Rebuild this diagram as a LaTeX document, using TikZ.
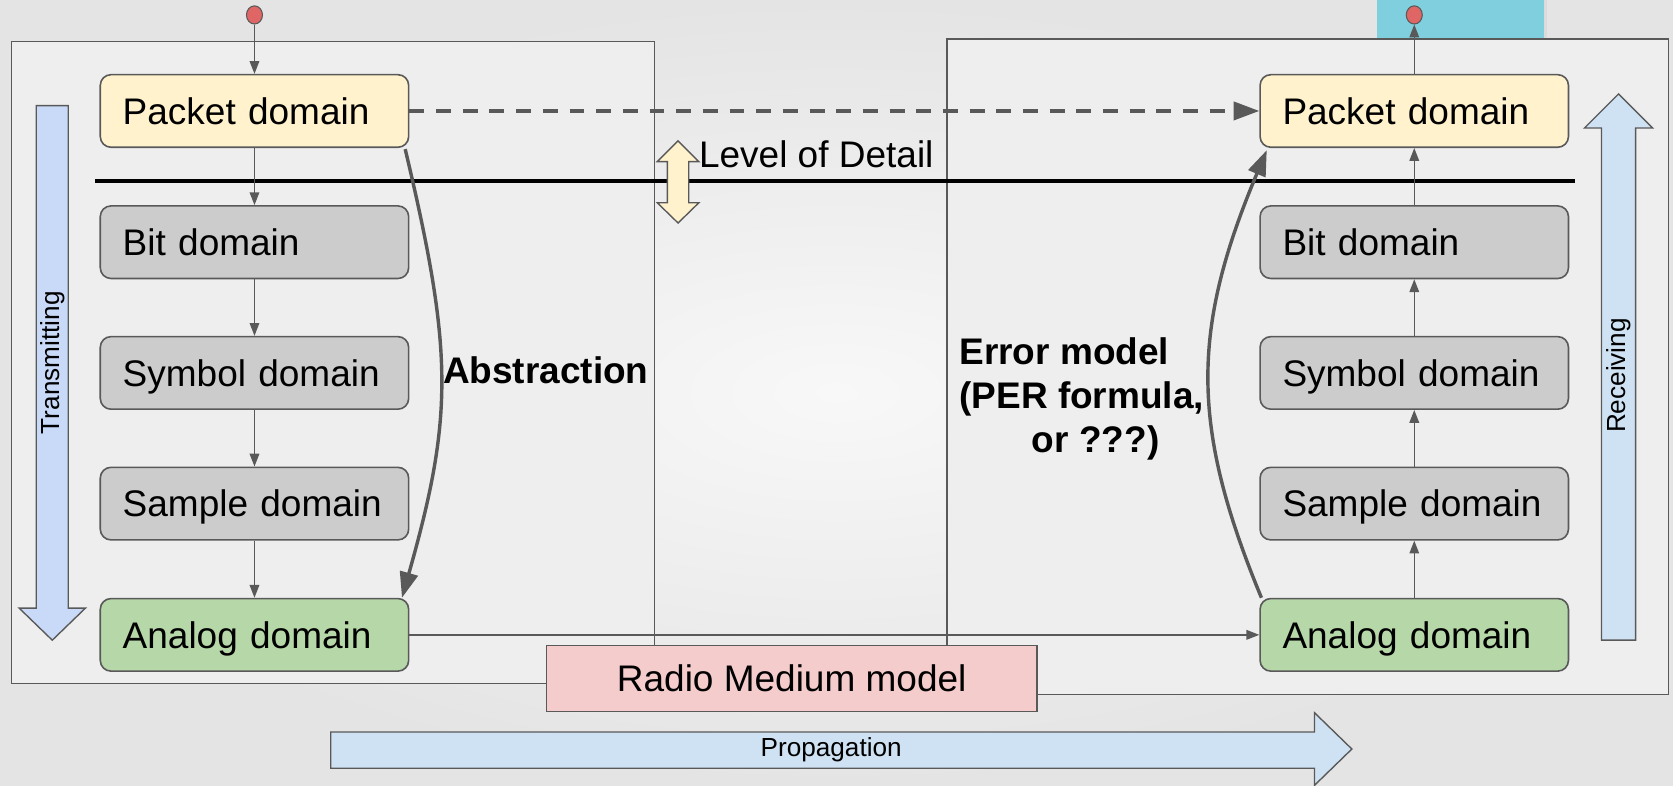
\documentclass[tikz,border=0pt]{standalone}
\usepackage{fontspec}
\setmainfont{Liberation Sans}
\usetikzlibrary{arrows.meta,shapes.geometric}

\definecolor{edge}{HTML}{595959}
\definecolor{pktfill}{HTML}{FFF2CC}
\definecolor{grayfill}{HTML}{CCCCCC}
\definecolor{greenfill}{HTML}{B6D7A8}
\definecolor{pinkfill}{HTML}{F4CCCC}
\definecolor{bluefill}{HTML}{CFE2F3}
\definecolor{txblue}{HTML}{C9DAF8}
\definecolor{cyanfill}{HTML}{80CFDE}
\definecolor{dotred}{HTML}{E06666}
\definecolor{panelfill}{HTML}{EEEEEE}
\definecolor{bgin}{HTML}{F8F8F8}
\definecolor{bgout}{HTML}{E4E4E4}

\tikzset{
  bigfont/.style={font=\fontsize{34.8}{41.5}\selectfont},
  boldfont/.style={font=\fontsize{34.8}{41.5}\selectfont\bfseries},
  smallfont/.style={font=\fontsize{24.6}{29}\selectfont},
  domainbox/.style={draw=edge, line width=1.5bp, rounded corners=10bp,
    minimum width=289bp, minimum height=68bp, inner xsep=21bp, inner ysep=0pt,
    text width=247bp, align=left, text height=24.9bp, text depth=0pt, bigfont},
  pkt/.style={domainbox, fill=pktfill},
  mid/.style={domainbox, fill=grayfill},
  ana/.style={domainbox, fill=greenfill},
  panelbox/.style={draw=edge, line width=1.3bp, fill=panelfill, inner sep=0pt, anchor=north west},
  enddot/.style={ellipse, draw=edge, line width=1bp, fill=dotred, minimum width=15bp, minimum height=17bp, inner sep=0pt},
  flow/.style={draw=edge, line width=1.3bp, -{Triangle[length=12bp,width=9bp]}},
  boldflow/.style={draw=edge, line width=3.2bp, -{Triangle[length=24bp,width=17bp]}},
  bigarrow/.style={draw=edge, line width=1.3bp},
}

\begin{document}
\begin{tikzpicture}[x=1bp, y=-1bp]
  \useasboundingbox (0,0) rectangle (1568,736);
  % slide background
  \shade[inner color=bgin, outer color=bgout] (0,0) rectangle (1568,736);

  % sink block above the receiver, with a soft shadow
  \fill[black, opacity=0.04] (1292,0) rectangle (1450,38);
  \node[fill=cyanfill, minimum width=157bp, minimum height=36bp, inner sep=0pt, anchor=north west] (sink) at (1290,0) {};

  % transmitter and receiver panels
  \node[panelbox, minimum width=603bp, minimum height=602bp] (txpanel) at (10,38) {};
  \node[panelbox, minimum width=676bp, minimum height=614bp] (rxpanel) at (887,36) {};

  % transmitter chain
  \node[pkt] (lp) at (238.5,104) {Packet domain};
  \node[mid] (lb) at (238.5,227) {Bit domain};
  \node[mid] (ls) at (238.5,349.5) {Symbol domain};
  \node[mid] (lm) at (238.5,472) {Sample domain};
  \node[ana] (la) at (238.5,595) {Analog domain};

  % receiver chain
  \node[pkt] (rp) at (1325.5,104) {Packet domain};
  \node[mid] (rb) at (1325.5,227) {Bit domain};
  \node[mid] (rs) at (1325.5,349.5) {Symbol domain};
  \node[mid] (rm) at (1325.5,472) {Sample domain};
  \node[ana] (ra) at (1325.5,595) {Analog domain};

  % source and sink points
  \node[enddot] (txdot) at (238.5,14) {};
  \node[enddot] (rxdot) at (1325.5,14) {};

  % level-of-detail boundary
  \node[inner sep=0pt, minimum width=1387bp, minimum height=3.6bp, fill=black] (lodline) at (782.5,170) {};

  % transmitting direction
  \filldraw[bigarrow, fill=txblue] (34,99) -- (64,99) -- (64,570) -- (80,570) -- (49,600)
    -- (18,570) -- (34,570) -- cycle;
  \node[smallfont, rotate=90] (txlabel) at (49,340) {Transmitting};

  % receiving direction
  \filldraw[bigarrow, fill=bluefill] (1501,600) -- (1533,600) -- (1533,120) -- (1549,120)
    -- (1517,88) -- (1485,120) -- (1501,120) -- cycle;
  \node[smallfont, rotate=90] (rxlabel) at (1517,352) {Receiving};

  % propagation direction
  \filldraw[bigarrow, fill=bluefill] (310,686) -- (1232,686) -- (1232,668) -- (1267,702)
    -- (1232,736) -- (1232,720) -- (310,720) -- cycle;
  \node[smallfont] (proplabel) at (779,703) {Propagation};

  % level-of-detail double arrow
  \filldraw[bigarrow, fill=pktfill] (635.5,132) -- (655,151.5) -- (645.5,151.5) -- (645.5,190)
    -- (655,190) -- (635.5,209) -- (616,190) -- (625.5,190) -- (625.5,151.5) -- (616,151.5) -- cycle;
  \node[bigfont, anchor=base west, inner sep=0pt] (lodlabel) at (655,157) {Level of Detail};

  % step-by-step flow
  \draw[flow] (txdot.south) -- (lp.north);
  \draw[flow] (lp.south) -- (lb.north);
  \draw[flow] (lb.south) -- (ls.north);
  \draw[flow] (ls.south) -- (lm.north);
  \draw[flow] (lm.south) -- (la.north);
  \draw[flow] (ra.north) -- (rm.south);
  \draw[flow] (rm.north) -- (rs.south);
  \draw[flow] (rs.north) -- (rb.south);
  \draw[flow] (rb.north) -- (rp.south);
  \draw[flow] (rp.north) -- (rxdot.south);
  \draw[flow] (la.east) -- (ra.west);

  % packet-level shortcut
  \draw[draw=edge, line width=3.2bp, dash pattern=on 14bp off 11bp,
        -{Triangle[length=24bp,width=17bp]}] (lp.east) -- (rp.west);

  % abstraction and error model
  \draw[boldflow] ([xshift=-4bp,yshift=-1bp]lp.south east) .. controls (425,330) and (425,390) .. ([xshift=-7bp]la.north east);
  \node[boldfont, anchor=base west, inner sep=0pt] (abslabel) at (415,359.5) {Abstraction};

  \draw[boldflow] ([xshift=2bp]ra.north west) .. controls (1116,400) and (1116,310) .. ([xshift=7bp,yshift=-2bp]rp.south west);
  \node[boldfont, align=left, anchor=north west, inner sep=0pt] (errlabel) at (899,316.5)
    {Error model\\(PER formula,\\\hspace*{68bp}or ???)};

  % radio medium
  \node[draw=edge, line width=1.3bp, fill=pinkfill, minimum width=460bp, minimum height=62bp,
        inner sep=0pt, bigfont] (medium) at (742,636) {Radio Medium model};
\end{tikzpicture}
\end{document}
